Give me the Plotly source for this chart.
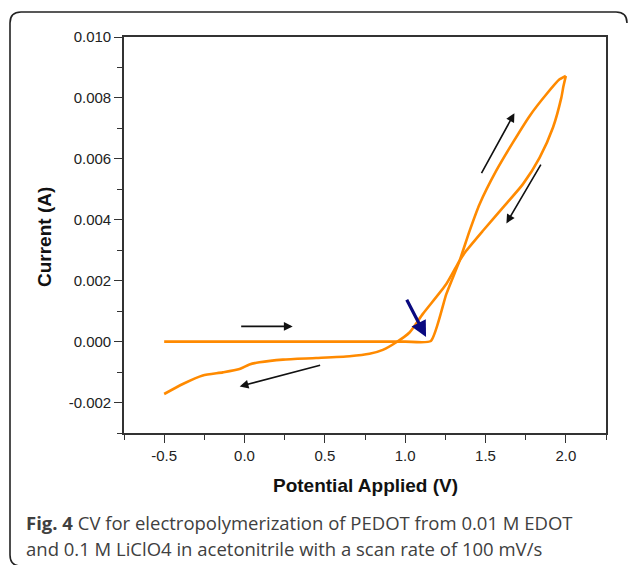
import plotly.graph_objects as go

# ---- data ----
fwd_potential = [-0.5, 0.0, 0.5, 1.0, 1.16, 1.256, 1.339, 1.40, 1.463, 1.567, 1.671, 1.775,
                 1.879, 1.961, 2.0]
fwd_current = [0.0, 0.0, 0.0, 0.0, 0.00002, 0.00156, 0.00266, 0.00362, 0.00451, 0.00561,
               0.00654, 0.00741, 0.00812, 0.00861, 0.00872]

rev_potential = [2.0, 1.985, 1.972, 1.92, 1.837, 1.733, 1.608, 1.484, 1.38, 1.339, 1.256,
                 1.11, 1.027, 0.945, 0.861, 0.778, 0.654, 0.446, 0.239, 0.093, 0.031,
                 -0.031, -0.135, -0.26, -0.384, -0.5]
rev_current = [0.00872, 0.00838, 0.00801, 0.00703, 0.00604, 0.00517, 0.0044, 0.00364,
               0.00298, 0.00266, 0.00189, 0.00091, 0.0003, -0.00002, -0.00027, -0.0004,
               -0.00048, -0.00054, -0.00059, -0.00068, -0.00075, -0.0009, -0.00101,
               -0.00111, -0.00139, -0.00172]

x_ticks = [-0.5, 0.0, 0.5, 1.0, 1.5, 2.0]
x_tick_labels = ["-0.5", "0.0", "0.5", "1.0", "1.5", "2.0"]
y_ticks = [-0.002, 0.0, 0.002, 0.004, 0.006, 0.008, 0.010]
y_tick_labels = ["-0.002", "0.000", "0.002", "0.004", "0.006", "0.008", "0.010"]

x_title = "Potential Applied (V)"
y_title = "Current (A)"
caption_1 = "<b>Fig. 4</b> CV for electropolymerization of PEDOT from 0.01 M EDOT"
caption_2 = "and 0.1 M LiClO4 in acetonitrile with a scan rate of 100 mV/s"

# scan direction arrows: (tail V, tail I, head V, head I)
scan_arrows = [
    (-0.03, 0.0005, 0.30, 0.0005),
    (0.48, -0.00076, -0.03, -0.00147),
    (1.47, 0.00548, 1.68, 0.00750),
    (1.85, 0.00586, 1.63, 0.00388),
]
onset_arrow = (1.005, 0.00142, 1.13, 0.00015)

# ---- layout geometry ----
W, H = 629, 565
L, R, T, B = 124, 606, 37, 433


def px(xp):
    return (xp - L) / (R - L)


def py(yp):
    return (B - yp) / (B - T)


AX_FONT = "Arial"
ORANGE = "#FF8A00"

fig = go.Figure()
fig.add_trace(go.Scatter(x=fwd_potential, y=fwd_current,
                         mode="lines", line=dict(color=ORANGE, width=2.6, shape="spline",
                                                 smoothing=0.5),
                         showlegend=False, hoverinfo="skip"))
fig.add_trace(go.Scatter(x=rev_potential, y=rev_current,
                         mode="lines", line=dict(color=ORANGE, width=2.6, shape="spline",
                                                 smoothing=0.6),
                         showlegend=False, hoverinfo="skip"))

annotations = []
for tv, ti, hv, hi in scan_arrows:
    annotations.append(dict(x=hv, y=hi, ax=tv, ay=ti, xref="x", yref="y", axref="x", ayref="y",
                            text="", showarrow=True, arrowhead=2, arrowsize=1.1,
                            arrowwidth=1.6, arrowcolor="#111111"))
tv, ti, hv, hi = onset_arrow
annotations.append(dict(x=hv, y=hi, ax=tv, ay=ti, xref="x", yref="y", axref="x", ayref="y",
                        text="", showarrow=True, arrowhead=2, arrowsize=1.0,
                        arrowwidth=3.2, arrowcolor="#0A0A80"))

annotations.append(dict(x=px(45), y=py(237), xref="paper", yref="paper", text=f"<b>{y_title}</b>",
                        textangle=-90, showarrow=False, xanchor="center", yanchor="middle",
                        font=dict(family=AX_FONT, size=19, color="#111111")))
annotations.append(dict(x=0.5, y=py(485), xref="paper", yref="paper", text=f"<b>{x_title}</b>",
                        showarrow=False, xanchor="center", yanchor="middle",
                        font=dict(family=AX_FONT, size=19, color="#111111")))
annotations.append(dict(x=px(24), y=py(522), xref="paper", yref="paper", text=caption_1,
                        showarrow=False, xanchor="left", yanchor="middle",
                        font=dict(family="Open Sans", size=18.5, color="#404040")))
annotations.append(dict(x=px(24), y=py(548), xref="paper", yref="paper", text=caption_2,
                        showarrow=False, xanchor="left", yanchor="middle",
                        font=dict(family="Open Sans", size=18.5, color="#404040")))

# rounded frame around the figure + caption
x0, x1, y0, y1, r = 10, 627, 12, 566, 11
frame = (f"M {px(x1)},{py(y0 + r)} Q {px(x1)},{py(y0)} {px(x1 - r)},{py(y0)} "
         f"L {px(x0 + r)},{py(y0)} Q {px(x0)},{py(y0)} {px(x0)},{py(y0 + r)} "
         f"L {px(x0)},{py(y1 - r)} Q {px(x0)},{py(y1)} {px(x0 + r)},{py(y1)}")

axis_common = dict(showgrid=False, zeroline=False, showline=True, linecolor="#333333",
                   linewidth=1.6, mirror=True, ticks="outside", ticklen=8, tickwidth=1.4,
                   tickcolor="#333333",
                   tickfont=dict(family=AX_FONT, size=15, color="#222222"))

fig.update_layout(
    width=W, height=H, margin=dict(l=L, r=W - R, t=T, b=H - B, autoexpand=False),
    paper_bgcolor="white", plot_bgcolor="white",
    xaxis=dict(range=[-0.75, 2.25], tickvals=x_ticks, ticktext=x_tick_labels,
               minor=dict(dtick=0.25, tick0=-0.75, ticks="outside", ticklen=5,
                          tickcolor="#333333", tickwidth=1.4),
               **axis_common),
    yaxis=dict(range=[-0.003, 0.010], tickvals=y_ticks, ticktext=y_tick_labels,
               minor=dict(dtick=0.001, tick0=-0.003, ticks="outside", ticklen=5,
                          tickcolor="#333333", tickwidth=1.4),
               **axis_common),
    annotations=annotations,
    shapes=[dict(type="path", path=frame, xref="paper", yref="paper",
                 line=dict(color="#222222", width=1.6), layer="above")],
)

fig.write_html("out.html")
